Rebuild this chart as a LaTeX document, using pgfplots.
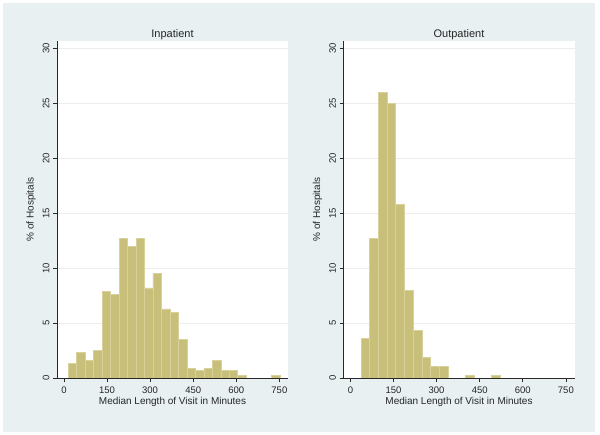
\documentclass[border=0pt]{standalone}
\usepackage{pgfplots}
\pgfplotsset{compat=1.18}
\usepackage{fontspec}
\setmainfont{Liberation Sans}
\definecolor{bgblue}{RGB}{232,240,242}
\definecolor{khaki}{RGB}{200,191,122}
\definecolor{khakiedge}{RGB}{216,209,156}
\definecolor{axisc}{RGB}{40,40,40}
\begin{document}
\begin{tikzpicture}
\useasboundingbox (0pt,0pt) rectangle (600pt,435pt);
\fill[white] (0pt,0pt) rectangle (600pt,435pt);
\fill[bgblue] (3pt,3pt) rectangle (595pt,432pt);
\pgfplotsset{
  hist/.style={
    anchor=south west,
    scale only axis,
    width=231pt, height=337pt,
    xmin=-24, xmax=780, ymin=0, ymax=30.7,
    axis background/.style={fill=white},
    axis x line*=bottom, axis y line*=left,
    axis line style={draw=axisc, line width=0.8pt},
    tick style={draw=axisc, line width=0.6pt},
    tick align=outside, major tick length=4pt,
    xtick={0,150,300,450,600,750},
    ytick={0,5,10,15,20,25,30},
    ymajorgrids, grid style={draw=black!7, line width=0.6pt},
    /pgf/number format/assume math mode=true,
    tick label style={font=\fontsize{9.5}{11}\selectfont, text=black!85},
    yticklabel style={rotate=90, anchor=south},
    xticklabel style={yshift=-1.5pt},
    xlabel={Median Length of Visit in Minutes},
    ylabel={\% of Hospitals},
    label style={font=\fontsize{10}{12}\selectfont, text=black!85},
    xlabel style={at={(axis description cs:0.5,0)}, anchor=center, yshift=-24pt},
    ylabel style={at={(axis description cs:0,0.5)}, anchor=center, rotate=0, yshift=26pt},
    title style={font=\fontsize{11}{13}\selectfont, text=black!85, at={(axis description cs:0.5,1)}, anchor=center, yshift=0pt},
  },
  bars/.style={ybar interval, fill=khaki, draw=khakiedge, line width=0.5pt},
}
\begin{axis}[hist, at={(57pt,57pt)}, title={Inpatient}]
\addplot[bars] coordinates {
(15,1.36) (44.5,2.33) (74,1.6) (103.5,2.5) (133,7.9) (162.5,7.6)
(192,12.7) (221.5,12.0) (251,12.7) (280.5,8.2) (310,9.5) (339.5,6.3)
(369,6.0) (398.5,3.5) (428,0.9) (457.5,0.66) (487,0.9) (516.5,1.6)
(546,0.66) (575.5,0.66) (605,0.24) (634.5,0)};
\addplot[bars] coordinates {(723,0.24) (752.5,0)};
\end{axis}
\begin{axis}[hist, at={(343.5pt,57pt)}, title={Outpatient}]
\addplot[bars] coordinates {
(37,3.6) (67.2,12.7) (97.4,26.0) (127.6,25.0) (157.8,15.8) (188,8.0)
(218.2,4.35) (248.4,1.86) (278.6,1.07) (308.8,1.07) (339,0)};
\addplot[bars] coordinates {(399.4,0.22) (429.6,0)};
\addplot[bars] coordinates {(490,0.22) (520.2,0)};
\end{axis}
\end{tikzpicture}
\end{document}
